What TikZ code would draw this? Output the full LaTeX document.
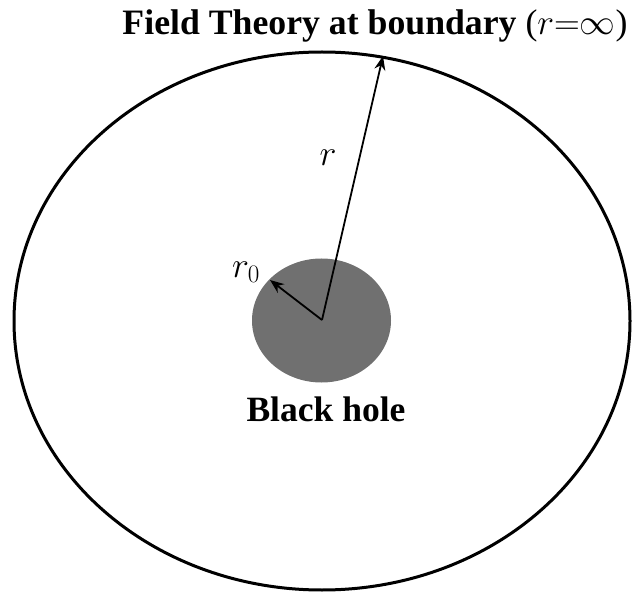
\documentclass[tikz,border=0pt]{standalone}
\usepackage{fix-cm}
\usepackage{fontspec}
\setmainfont{Liberation Serif}
\usetikzlibrary{arrows.meta}
\begin{document}
\begin{tikzpicture}[x=1pt,y=-1pt,
  radius/.style={line width=1.8pt,-{Stealth[length=14pt,width=11pt]}},
  lbl/.style={inner sep=0pt,font=\fontsize{36}{40}\selectfont},
  bold/.style={inner sep=0pt,font=\bfseries\fontsize{36}{40}\selectfont}]
\useasboundingbox (0,0) rectangle (635,596);
\draw[line width=3pt] (322,321) ellipse [x radius=308, y radius=269];
\fill[fill={rgb,255:red,112;green,112;blue,112}] (321.5,320.5) ellipse [x radius=69.5, y radius=62];
\coordinate (c) at (322,320);
\coordinate (bnd) at (383,56);
\coordinate (hor) at (270,280);
\draw[radius] (c) -- (bnd);
\draw[radius] (c) -- (hor);
\node[lbl] (rl) at (328,158) {$r$};
\node[lbl] (r0l) at (246,272) {$r_0$};
\node[bold] (title) at (375,26) {\resizebox{505pt}{!}{Field Theory at boundary {\mdseries(}$r{=}\infty${\mdseries)}}};
\node[bold] (bh) at (326,409) {\resizebox{159pt}{!}{Black hole}};
\end{tikzpicture}
\end{document}
